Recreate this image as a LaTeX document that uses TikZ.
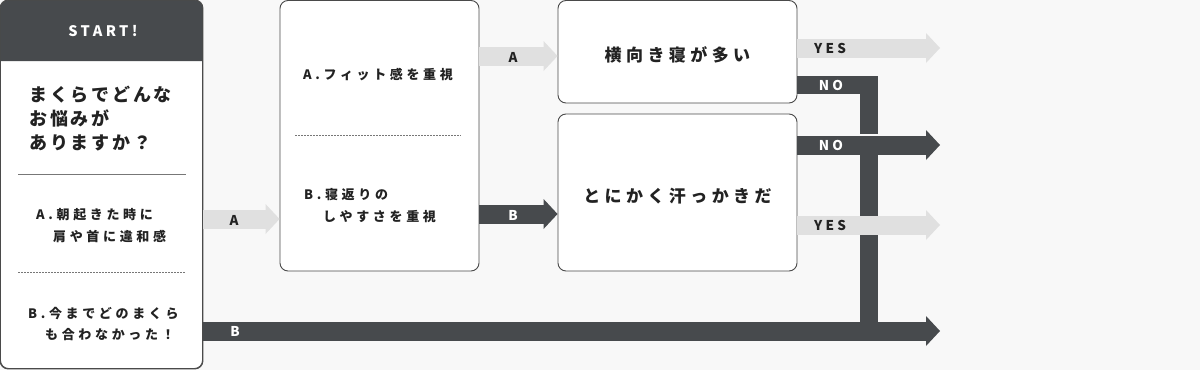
\documentclass[tikz,border=0pt]{standalone}
\usepackage{fontspec}
\setmainfont{Noto Sans CJK JP}
\newfontfamily\jpq[LetterSpace=16]{Noto Sans CJK JP}
\newfontfamily\jps[LetterSpace=28]{Noto Sans CJK JP}
\newfontfamily\jpb[LetterSpace=26]{Noto Sans CJK JP}
\newfontfamily\jpl[LetterSpace=24]{Noto Sans CJK JP}
\usetikzlibrary{arrows.meta}
\definecolor{bg}{HTML}{F8F8F8}
\definecolor{dk}{HTML}{474A4D}
\definecolor{lt}{HTML}{E0E0E0}
\definecolor{bd}{HTML}{4A4A4A}
\definecolor{tx}{HTML}{222222}
\definecolor{rule}{HTML}{777777}
\begin{document}
\begin{tikzpicture}[x=1pt,y=-1pt,
  box/.style={draw=bd, line width=0.9pt, fill=white, rounded corners=8pt, inner sep=0pt},
  tip/.style={-{Triangle[width=30pt,length=14pt,line width=0pt]}},
  darrow/.style={draw=dk, line width=19pt, tip},
  larrow/.style={draw=lt, line width=19pt, tip},
  qtext/.style={font={\jpq\bfseries\fontsize{18}{24}\selectfont}, text=tx, align=left, inner sep=0pt, anchor=west},
  stext/.style={font={\jps\bfseries\fontsize{13}{21.5}\selectfont}, text=tx, align=left, inner sep=0pt, anchor=west},
  btext/.style={font={\jpb\bfseries\fontsize{17}{22}\selectfont}, text=tx, inner sep=0pt},
  lab/.style={font={\jpl\bfseries\fontsize{13.5}{15}\selectfont}, inner sep=0pt},
  dlab/.style={lab, text=white},
  llab/.style={lab, text=tx},
]
\fill[bg] (0,0) rectangle (1200,370);
\useasboundingbox (0,0) rectangle (1200,370);

% boxes
\node[box, minimum width=202pt, minimum height=368pt] (lbox) at (101.5,184.5) {};
\fill[dk] (0.5,61) [rounded corners=8pt] -- (0.5,0.5) -- (202.5,0.5) [sharp corners] -- (202.5,61) -- cycle;
\draw[bd, line width=0.9pt, rounded corners=8pt] (lbox.north west) rectangle (lbox.south east);
\node[box, minimum width=199pt, minimum height=270.5pt] (mbox) at (379.5,135.75) {};
\node[box, minimum width=239pt, minimum height=102.5pt] (b3) at (677.5,51.75) {};
\node[box, minimum width=239pt, minimum height=157pt] (b4) at (677.5,192.5) {};

% rules
\draw[rule, line width=0.8pt] (18,174) -- (186,174);
\draw[rule, line width=0.6pt, dash pattern=on 1.5pt off 1.5pt] (18,272) -- (186,272);
\draw[rule, line width=0.6pt, dash pattern=on 1.5pt off 1.5pt] (295,135) -- (461,135);

% texts
\node[text=white, font={\jpl\bfseries\fontsize{14.5}{16}\selectfont}, inner sep=0pt] (start) at (103,31) {START!};
\node[qtext] (q) at (29,118.5) {まくらでどんな\\お悩みが\\ありますか？};
\node[stext] (qa) at (36,225.5) {A.朝起きた時に\\\hspace*{17pt}肩や首に違和感};
\node[stext] (qb) at (28,324) {B.今までどのまくら\\\hspace*{17pt}も合わなかった！};
\node[stext] (ma) at (303,75) {A.フィット感を重視};
\node[stext] (mb) at (304,205.5) {B.寝返りの\\\hspace*{19pt}しやすさを重視};
\node[btext] (t3) at ([yshift=-3pt]b3.center) {横向き寝が多い};
\node[btext] (t4) at ([yshift=-4pt]b4.center) {とにかく汗っかきだ};

% coordinates
\coordinate (yA1) at (0,219);
\coordinate (yA2) at (0,56);
\coordinate (yB2) at (0,214);
\coordinate (eY1) at (940,48);
\coordinate (eN2) at (940,145);
\coordinate (eY2) at (940,225);
\coordinate (eB) at (940,331);
\coordinate (c1) at (869,85);
\coordinate (c2) at (869,134);
\coordinate (c3) at (869,154);
\coordinate (c4) at (869,331);

% arrows
\draw[larrow] (lbox.east |- yA1) -- (mbox.west |- yA1);
\draw[larrow] (mbox.east |- yA2) -- (b3.west |- yA2);
\draw[darrow] (mbox.east |- yB2) -- (b4.west |- yB2);
\draw[larrow] (b3.east |- eY1) -- (eY1);
\draw[draw=dk, line width=18pt] (b3.east |- c1) -- (c1) -- (c2);
\draw[darrow] (b4.east |- eN2) -- (eN2);
\draw[draw=dk, line width=18pt] (c3) -- (c4);
\draw[larrow] (b4.east |- eY2) -- (eY2);
\draw[darrow] (lbox.east |- eB) -- (eB);

% labels
\node[llab] (la1) at (234,220) {A};
\node[llab] (la2) at (513,57) {A};
\node[dlab] (lb2) at (513,215) {B};
\node[llab] (ly1) at (830,48.5) {YES};
\node[dlab] (ln1) at (831,85.5) {NO};
\node[dlab] (ln2) at (831,145) {NO};
\node[llab] (ly2) at (830,225.5) {YES};
\node[dlab] (lb1) at (235,331.5) {B};
\end{tikzpicture}
\end{document}
